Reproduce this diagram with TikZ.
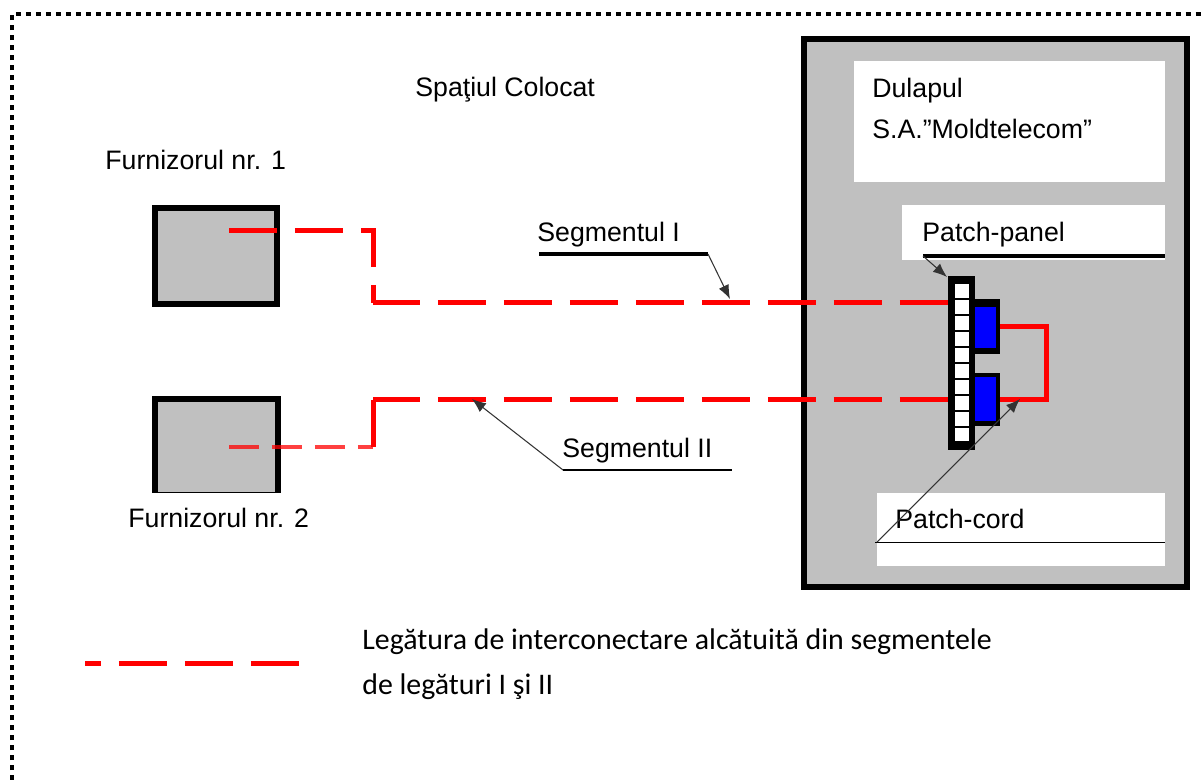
\documentclass[tikz,border=0pt]{standalone}
\usepackage{fontspec}
\setmainfont{Liberation Sans}
\newfontfamily\legfont{Carlito}
\usetikzlibrary{arrows.meta}
\definecolor{boxgray}{RGB}{192,192,192}
\definecolor{cblue}{RGB}{0,0,255}
\begin{document}
\begin{tikzpicture}[x=0.02cm,y=-0.02cm,
  lbl/.style={anchor=base west,inner sep=0pt,font=\fontsize{15.2}{18}\selectfont},
  leg/.style={anchor=base west,inner sep=0pt,font=\legfont\fontsize{17}{20}\selectfont},
  redline/.style={draw=red,line width=0.1cm,dash pattern=on 0.96cm off 0.36cm},
  ptr/.style={draw=black!80,line width=0.6pt,-{Latex[length=0.28cm,width=0.22cm]}},
  thickbox/.style={draw=black,line width=0.11cm,fill=boxgray}]
\useasboundingbox (0,0) rectangle (1201,780);
\fill[white] (0,0) rectangle (1201,780);

% outer dotted frame
\draw[line width=0.09cm, dash pattern=on 0.1cm off 0.1cm] (12,780) -- (12,14) -- (1201,14);

% cabinet
\draw[thickbox] (804,39) rectangle (1187,587);
\fill[white] (854,61) rectangle (1165,182);
\fill[white] (902,205) rectangle (1165,260);
\fill[white] (877,493) rectangle (1165,566);

% supplier boxes
\draw[thickbox] (155,208) rectangle (277,304);
\fill[boxgray] (152,396) rectangle (281,493);
\draw[line width=0.11cm] (155,493) -- (155,399) -- (278,399) -- (278,493);
\draw[line width=0.6pt] (152,492.5) -- (281,492.5);

% texts
\node[lbl] (sp) at (415,97) {Spaţiul Colocat};
\node[lbl] (f1) at (105,170) {Furnizorul nr. 1};
\node[lbl] (f2) at (128,528) {Furnizorul nr. 2};
\node[lbl] (dul1) at (872,98) {Dulapul};
\node[lbl] (dul2) at (872,139) {S.A.”Moldtelecom”};
\node[lbl] (pp) at (922,242) {Patch-panel};
\node[lbl] (pc) at (895,529) {Patch-cord};
\node[lbl] (s1) at (537,242) {Segmentul I};
\node[lbl] (s2) at (562,458) {Segmentul II};
\node[leg] (l1) at (362,649) {Legătura de interconectare alcătuită din segmentele};
\node[leg] (l2) at (362,694) {de legături I şi II};

% red link lines
\coordinate (a1) at (229,231);
\coordinate (a2) at (373,231);
\coordinate (a3) at (373,303);
\coordinate (a4) at (948,303);
\draw[redline] (a1) -- (a2) -- (a3);
\draw[redline, dash phase=0.02cm] (a3) -- (a4);
\coordinate (b1) at (229,447);
\coordinate (b2) at (373,447);
\coordinate (b3) at (373,400);
\coordinate (b4) at (948,400);
\draw[redline, line width=0.07cm, draw opacity=0.75, dash pattern=on 0.6cm off 0.26cm] (b1) -- (b2);
\draw[red, line width=0.1cm] (b2) -- (b3);
\draw[redline, dash phase=0.02cm] (b3) -- (b4);

% patch panel
\fill[black] (948,276) rectangle (975,450);
\foreach \i in {0,...,9} {
  \fill[white] (955,{283+15.9*\i+1.5}) rectangle (969,{283+15.9*(\i+1)-0.5});
}
% connectors
\fill[black] (972,299) rectangle (1000,354);
\fill[cblue] (975,307) rectangle (996,348);
\fill[black] (972,373) rectangle (1000,426);
\fill[cblue] (975,377) rectangle (996,421);
\coordinate (c1) at (1000,327);
\coordinate (c2) at (1046,327);
\coordinate (c3) at (1046,400);
\coordinate (c4) at (1000,400);
\draw[red, line width=0.1cm] (c1) -- (c2) -- (c3) -- (c4);

% pointers
\coordinate (s1u) at (539,254);
\coordinate (s1k) at (708,254);
\coordinate (s1t) at (730,299);
\draw[line width=0.08cm] (s1u) -- (s1k);
\draw[ptr] (s1k) -- (s1t);
\coordinate (s2k) at (563,470);
\coordinate (s2e) at (732,470);
\coordinate (s2t) at (472,399);
\draw[line width=0.6pt] (s2k) -- (s2e);
\draw[ptr] (s2k) -- (s2t);
\coordinate (ppu) at (923,256);
\coordinate (ppe) at (1165,256);
\coordinate (ppt) at (947,277);
\draw[line width=0.07cm] (ppu) -- (ppe);
\draw[ptr] (ppu) -- (ppt);
\coordinate (pcu) at (877,542);
\coordinate (pce) at (1165,542);
\coordinate (pct) at (1020,399);
\draw[line width=0.5pt] (875,542) -- (pce);
\draw[ptr] (pcu) -- (pct);

% legend line
\coordinate (g1) at (85,663);
\coordinate (g2) at (300,663);
\draw[redline, dash phase=0.64cm] (g1) -- (g2);
\end{tikzpicture}
\end{document}
